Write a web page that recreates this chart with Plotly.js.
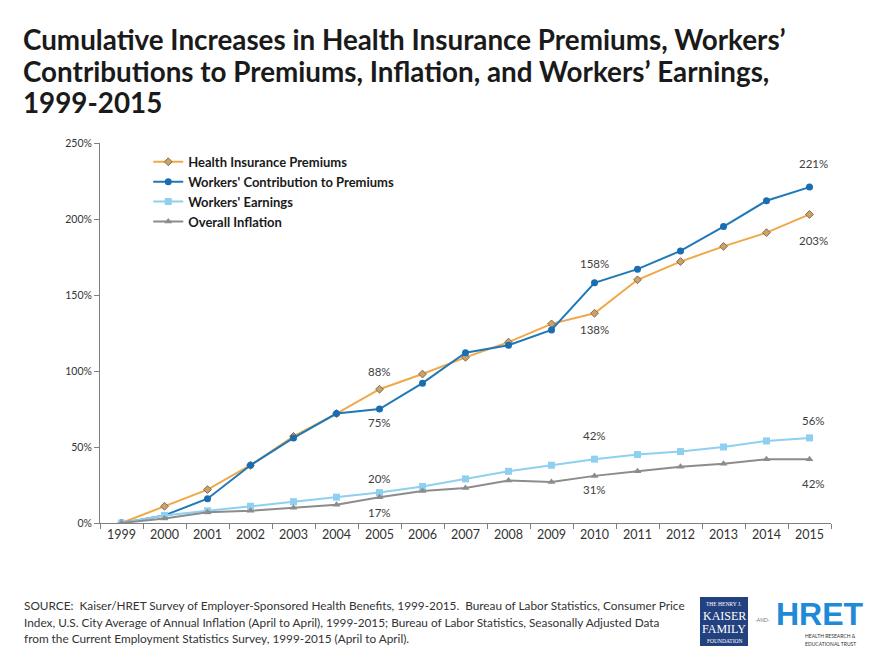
<!DOCTYPE html>
<html>
<head>
<meta charset="utf-8">
<script src="https://cdn.plot.ly/plotly-3.0.1.min.js"></script>
<style>html,body{margin:0;padding:0;background:#fff;}#chart{width:883px;height:669px;}</style>
</head>
<body>
<div id="chart"></div>
<script>
// ---- data ----
var years = ['1999','2000','2001','2002','2003','2004','2005','2006','2007','2008','2009','2010','2011','2012','2013','2014','2015'];
var premiums     = [0, 11, 22, 38, 57, 72, 88, 98, 109, 119, 131, 138, 160, 172, 182, 191, 203];
var contribution = [0, 5, 16, 38, 56, 72, 75, 92, 112, 117, 127, 158, 167, 179, 195, 212, 221];
var earnings     = [0, 5, 8, 11, 14, 17, 20, 24, 29, 34, 38, 42, 45, 47, 50, 54, 56];
var inflation    = [0, 3, 7, 8, 10, 12, 17, 21, 23, 28, 27, 31, 34, 37, 39, 42, 42];
var seriesNames  = ['Health Insurance Premiums', "Workers' Contribution to Premiums", "Workers' Earnings", 'Overall Inflation'];
var yTicks = [0, 50, 100, 150, 200, 250];
var titleLines = [
  "Cumulative Increases in Health Insurance Premiums, Workers\u2019",
  "Contributions to Premiums, Inflation, and Workers\u2019 Earnings,",
  "1999-2015"
];
var sourceLines = [
  "SOURCE:  Kaiser/HRET Survey of Employer-Sponsored Health Benefits, 1999-2015.  Bureau of Labor Statistics, Consumer Price",
  "Index, U.S. City Average of Annual Inflation (April to April), 1999-2015; Bureau of Labor Statistics, Seasonally Adjusted Data",
  "from the Current Employment Statistics Survey, 1999-2015 (April to April)."
];
// labelled points: [series index, year index]
var labelled = [[0,6],[1,6],[2,6],[3,6],[1,11],[0,11],[2,11],[3,11],[1,16],[0,16],[2,16],[3,16]];
var labelShift = [18,-13,14,-15,19,-16,24,-14,24,-26,17,-24];

var FONT = 'Lato, "Open Sans", sans-serif';
var all = [premiums, contribution, earnings, inflation];

var traces = [
  {x: years, y: premiums, name: seriesNames[0], type: 'scatter', mode: 'lines+markers',
   line: {color: '#F0A848', width: 2},
   marker: {symbol: 'diamond', size: 6, color: '#C9A36E', line: {color: '#8A6A45', width: 1}}},
  {x: years, y: contribution, name: seriesNames[1], type: 'scatter', mode: 'lines+markers',
   line: {color: '#1F78B8', width: 2},
   marker: {symbol: 'circle', size: 7, color: '#1A6DB0'}},
  {x: years, y: earnings, name: seriesNames[2], type: 'scatter', mode: 'lines+markers',
   line: {color: '#8FCFF0', width: 2},
   marker: {symbol: 'square', size: 7, color: '#8FCFF0'}},
  {x: years, y: inflation, name: seriesNames[3], type: 'scatter', mode: 'lines+markers',
   line: {color: '#8C8C8C', width: 2},
   marker: {symbol: 'triangle-up', size: 7, color: '#8C8C8C'}}
];

var annotations = [];
labelled.forEach(function(l, i){
  annotations.push({
    xref: 'x', yref: 'y', x: l[1], y: all[l[0]][l[1]],
    text: all[l[0]][l[1]] + '%', showarrow: false, yshift: labelShift[i],
    xshift: l[1] === 16 ? 4 : 0,
    font: {family: FONT, size: 11.5, color: '#404040'}
  });
});
function px(xp){ return (xp - 100) / 731; }
function py(yp){ return (523 - yp) / 380; }
var titleY = [40, 72, 103];
titleLines.forEach(function(t, i){
  annotations.push({xref: 'paper', yref: 'paper', xanchor: 'left', yanchor: 'middle',
    x: px(21), y: py(titleY[i]), text: '<b>' + t + '</b>', showarrow: false,
    font: {family: FONT, size: 27.8, color: '#1a1a1a'}});
});
var srcY = [605, 622, 638];
sourceLines.forEach(function(t, i){
  annotations.push({xref: 'paper', yref: 'paper', xanchor: 'left', yanchor: 'middle',
    x: px(22), y: py(srcY[i]), text: t, showarrow: false,
    font: {family: FONT, size: 11.8, color: '#333333'}});
});
// logo texts
var serif = '"Liberation Serif", "DejaVu Serif", serif';
function logoText(x, y, txt, fam, size, col, anchor){
  annotations.push({xref:'paper', yref:'paper', xanchor: anchor || 'center', yanchor: 'middle',
    x: px(x), y: py(y), text: txt, showarrow: false, font: {family: fam, size: size, color: col}});
}
logoText(724, 604, 'THE HENRY J.', serif, 5.5, '#ffffff');
logoText(724, 616, 'KAISER', serif, 12, '#ffffff');
logoText(724, 629, 'FAMILY', serif, 12, '#ffffff');
logoText(724, 641, 'FOUNDATION', serif, 5.5, '#ffffff');
logoText(762, 620, '-AND-', FONT, 5, '#777777');
logoText(866, 614, '<b>HRET</b>', '"Liberation Sans", Arial, sans-serif', 32, '#1E8AD8', 'right');
logoText(803, 636, 'HEALTH RESEARCH &', FONT, 5, '#333333', 'left');
logoText(803, 644, 'EDUCATIONAL TRUST', FONT, 5, '#333333', 'left');

var shapes = [
  {type:'rect', xref:'paper', yref:'paper', x0:px(700), x1:px(748), y0:py(597), y1:py(646),
   fillcolor:'#24417F', line:{width:0}, layer:'below'}
];

var layout = {
  width: 883, height: 669,
  margin: {l: 100, r: 52, t: 143, b: 146},
  paper_bgcolor: '#ffffff', plot_bgcolor: '#ffffff',
  showlegend: true,
  legend: {x: 0.066, y: 0.99, xanchor: 'left', yanchor: 'top', bgcolor: 'rgba(0,0,0,0)',
           font: {family: FONT, size: 13, color: '#1a1a1a', weight: 'bold'}, tracegroupgap: 0},
  xaxis: {type: 'category', range: [-0.5, 16.5], tickson: 'boundaries', ticks: 'outside', ticklen: 5,
          tickcolor: '#7f7f7f', showline: true, linecolor: '#7f7f7f', linewidth: 1, showgrid: false,
          zeroline: false, fixedrange: true,
          tickfont: {family: FONT, size: 12.5, color: '#333333'}},
  yaxis: {range: [0, 250], tickvals: yTicks, ticktext: yTicks.map(function(v){return v + '%';}),
          ticks: 'outside', ticklen: 5, tickcolor: '#7f7f7f', showline: true, linecolor: '#7f7f7f',
          linewidth: 1, showgrid: false, zeroline: false, fixedrange: true,
          tickfont: {family: FONT, size: 10.5, color: '#333333'}},
  annotations: annotations,
  shapes: shapes
};

Plotly.newPlot('chart', traces, layout, {displayModeBar: false, staticPlot: true});
</script>
</body>
</html>
